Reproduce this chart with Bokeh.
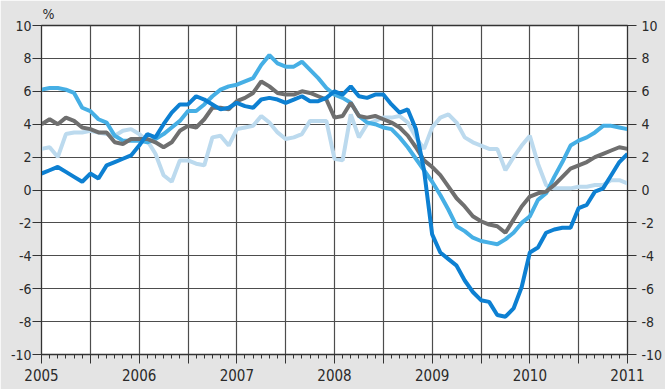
import numpy as np
from bokeh.plotting import figure
from bokeh.models import FixedTicker, LinearAxis, Range1d
from bokeh.embed import file_html
from bokeh.resources import INLINE

# Monthly observations, Jan 2005 .. Jan 2011 (73 months)
start_year = 2005
dark_blue = [1.0, 1.2, 1.4, 1.1, 0.8, 0.5, 1.0, 0.7, 1.5, 1.7, 1.9, 2.1,
             2.7, 3.4, 3.2, 4.0, 4.7, 5.2, 5.2, 5.7, 5.5, 5.2, 4.9, 5.0,
             5.3, 5.1, 5.0, 5.5, 5.6, 5.5, 5.3, 5.5, 5.7, 5.4, 5.4, 5.6,
             6.0, 5.8, 6.3, 5.7, 5.6, 5.8, 5.8, 5.2, 4.7, 4.9, 3.7, 1.2,
             -2.7, -3.8, -4.2, -4.6, -5.5, -6.2, -6.7, -6.8, -7.6, -7.7, -7.2, -5.9,
             -3.8, -3.5, -2.6, -2.4, -2.3, -2.3, -1.1, -0.9, -0.1, 0.1, 0.9, 1.7,
             2.2]
light_blue = [6.1, 6.2, 6.2, 6.1, 5.9, 5.0, 4.8, 4.3, 4.1, 3.3, 3.0, 3.0,
              3.0, 2.9, 3.1, 3.4, 3.8, 4.2, 4.8, 4.8, 5.2, 5.7, 6.1, 6.3,
              6.4, 6.6, 6.8, 7.6, 8.2, 7.7, 7.5, 7.5, 7.8, 7.3, 6.8, 6.2,
              5.8, 5.6, 5.3, 4.5, 4.1, 4.0, 3.8, 3.7, 3.2, 2.6, 1.9, 1.2,
              0.5, -0.3, -1.2, -2.2, -2.5, -2.9, -3.1, -3.2, -3.3, -3.0, -2.6, -2.0,
              -1.6, -0.6, -0.2, 0.8, 1.7, 2.7, 3.0, 3.2, 3.5, 3.9, 3.9, 3.8,
              3.7]
grey = [4.0, 4.3, 4.0, 4.4, 4.2, 3.8, 3.7, 3.5, 3.5, 2.9, 2.8, 3.1,
        3.1, 3.1, 2.9, 2.6, 2.9, 3.6, 3.9, 3.8, 4.3, 5.0, 5.0, 4.9,
        5.4, 5.6, 5.9, 6.6, 6.3, 5.9, 5.8, 5.8, 6.0, 5.9, 5.7, 5.5,
        4.4, 4.5, 5.3, 4.5, 4.4, 4.5, 4.3, 4.1, 3.8, 3.3, 2.6, 1.8,
        1.4, 0.9, 0.2, -0.5, -1.0, -1.6, -1.9, -2.1, -2.2, -2.6, -1.8, -1.0,
        -0.4, -0.2, -0.1, 0.3, 0.8, 1.3, 1.5, 1.7, 2.0, 2.2, 2.4, 2.6,
        2.5]
pale_blue = [2.5, 2.6, 2.0, 3.4, 3.5, 3.5, 3.6, 3.5, 3.4, 3.3, 3.6, 3.7,
             3.4, 3.0, 2.2, 0.9, 0.5, 1.8, 1.8, 1.6, 1.5, 3.2, 3.3, 2.7,
             3.7, 3.8, 3.9, 4.5, 4.1, 3.5, 3.1, 3.2, 3.4, 4.2, 4.2, 4.2,
             1.9, 1.8, 4.6, 3.2, 4.0, 4.2, 4.4, 4.4, 4.5, 4.1, 3.2, 2.5,
             3.8, 4.4, 4.6, 4.1, 3.2, 2.9, 2.7, 2.5, 2.5, 1.2, 2.0, 2.7,
             3.3, 1.6, 0.3, 0.1, 0.1, 0.1, 0.2, 0.2, 0.3, 0.3, 0.6, 0.6,
             0.4]
year_labels = ["2005", "2006", "2007", "2008", "2009", "2010", "2011"]
y_ticks = [-10, -8, -6, -4, -2, 0, 2, 4, 6, 8, 10]
y_tick_labels = ["-10", "-8", "-6", "-4", "-2", "0", "2", "4", "6", "8", "10"]
unit_label = "%"

months = np.arange(len(dark_blue))
x = start_year + months / 12.0

FONT = "DejaVu Sans Condensed"
BG = "#e4e4e4"
GRID = "#4d4d4d"
TXT = "#2a2a2a"

p = figure(width=665, height=389, output_backend="svg", toolbar_location=None,
           x_range=Range1d(2005, 2011), y_range=Range1d(-10, 10),
           min_border_left=41, min_border_right=36, min_border_top=24,
           min_border_bottom=35)
p.background_fill_color = "white"
p.border_fill_color = BG
p.outline_line_color = "#333333"
p.outline_line_width = 1.3

p.title.text = unit_label
p.title.align = "left"
p.title.offset = 1
p.title.standoff = 7
p.title.text_font = FONT
p.title.text_font_size = "14px"
p.title.text_font_style = "normal"
p.title.text_color = TXT

half_years = [2005 + k * 0.5 for k in range(13)]
month_ticks = [2005 + k / 12.0 for k in range(73)]
overrides = {}
for k, t in enumerate(half_years):
    overrides[t] = year_labels[k // 2] if k % 2 == 0 else ""

y_overrides = {t: s for t, s in zip(y_ticks, y_tick_labels)}

xt = FixedTicker(ticks=half_years, minor_ticks=month_ticks)
p.xaxis.ticker = xt
p.xaxis.major_label_overrides = overrides
p.xaxis.major_tick_out = 9
p.xaxis.major_tick_in = 0
p.xaxis.minor_tick_out = 4
p.xaxis.minor_tick_in = 0
p.xaxis.major_label_standoff = 5
p.xaxis.major_label_text_font = FONT
p.xaxis.major_label_text_font_size = "15px"
p.xaxis.major_label_text_color = TXT
p.xaxis.axis_line_color = "#333333"
p.xaxis.major_tick_line_color = "#333333"
p.xaxis.minor_tick_line_color = "#333333"

yt = FixedTicker(ticks=y_ticks, minor_ticks=[])
p.yaxis.ticker = yt
p.yaxis.major_label_overrides = y_overrides
p.yaxis.major_tick_out = 9
p.yaxis.major_tick_in = 0
p.yaxis.minor_tick_line_color = None
p.yaxis.major_label_standoff = 1
p.yaxis.major_label_text_font = FONT
p.yaxis.major_label_text_font_size = "14px"
p.yaxis.major_label_text_color = TXT
p.yaxis.axis_line_color = "#333333"
p.yaxis.major_tick_line_color = "#333333"

right = LinearAxis(ticker=FixedTicker(ticks=y_ticks, minor_ticks=[]))
right.major_label_overrides = y_overrides
right.major_tick_out = 9
right.major_tick_in = 0
right.minor_tick_line_color = None
right.major_label_standoff = 5
right.major_label_text_font = FONT
right.major_label_text_font_size = "14px"
right.major_label_text_color = TXT
right.axis_line_color = "#333333"
right.major_tick_line_color = "#333333"
p.add_layout(right, "right")

p.xgrid.ticker = xt
p.xgrid.grid_line_color = GRID
p.xgrid.grid_line_width = 1.2
p.ygrid.ticker = yt
p.ygrid.grid_line_color = GRID
p.ygrid.grid_line_width = 1.2

p.line(x, pale_blue, line_color="#bcdaee", line_width=4)
p.line(x, light_blue, line_color="#46afe5", line_width=4)
p.line(x, grey, line_color="#6f6f6f", line_width=4)
p.line(x, dark_blue, line_color="#0d80d2", line_width=4)

open("out.html", "w").write(file_html(p, INLINE))
